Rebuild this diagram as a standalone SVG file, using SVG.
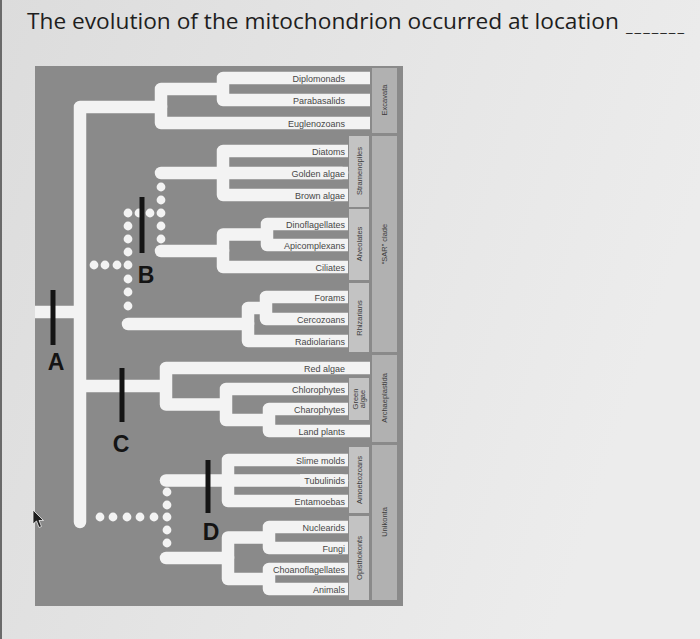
<svg xmlns="http://www.w3.org/2000/svg" width="700" height="639" viewBox="0 0 700 639">
<defs>
<linearGradient id="bg" x1="0" y1="0" x2="1" y2="0.3">
<stop offset="0" stop-color="#dcdcdc"/>
<stop offset="0.6" stop-color="#e6e6e6"/>
<stop offset="1" stop-color="#ececec"/>
</linearGradient>
<style>
.title{font-family:"Open Sans","Liberation Sans",sans-serif;font-size:22.7px;fill:#1e1e1e}
.br{fill:none;stroke:#f3f3f3;stroke-width:12.5;stroke-linejoin:round;stroke-linecap:butt}
.brr{fill:none;stroke:#f3f3f3;stroke-width:12.5;stroke-linejoin:round;stroke-linecap:round}
.dot{fill:#f3f3f3}
.leaf{font-family:"Liberation Sans",Arial,sans-serif;font-size:9px;fill:#474747;text-anchor:end}
.colO{fill:#b1b1b1}
.colI{fill:#c3c3c3}
.clab{font-family:"Liberation Sans",Arial,sans-serif;font-size:7.5px;fill:#3c3c3c;text-anchor:middle}
.mark{stroke:#141414;stroke-width:5;stroke-linecap:butt}
.let{font-family:"Liberation Sans",Arial,sans-serif;font-size:23px;font-weight:bold;fill:#141414;text-anchor:middle}
</style>
</defs>
<rect x="0" y="0" width="700" height="639" fill="url(#bg)"/>
<rect x="0" y="0" width="2" height="639" fill="#6a6a6a"/>
<text class="title" x="27" y="29">The evolution of the mitochondrion occurred at location</text>
<text class="title" x="626" y="32" style="font-size:15px;letter-spacing:2px">_______</text>

<rect id="panel" x="35" y="66" width="368" height="540" fill="#8a8a8a"/>

<g id="connectors">
<path class="brr" d="M161 107 H80 V522"/>
<path class="br" d="M35 312 H80"/>
<path class="br" d="M80 386 H166"/>
<path class="br" d="M223 89 H161 V123 H370"/>
<path class="br" d="M370 78 H223 V100 H370"/>
<path class="br" d="M348 151 H223 V195 H348"/>
<path class="brr" d="M161 173 H342"/>
<path class="br" d="M300 173 H348"/>
<path class="br" d="M348 224 H267 V245 H348"/>
<path class="br" d="M267 234.5 H223 V267 H348"/>
<path class="brr" d="M161 251 H223"/>
<path class="br" d="M348 297 H266 V319 H348"/>
<path class="br" d="M266 308 H248 V341 H348"/>
<path class="brr" d="M128 324 H248"/>
<path class="br" d="M370 368 H166 V404.5 H226"/>
<path class="br" d="M348 389 H226 V420 H269"/>
<path class="br" d="M348 409 H269 V431 H370"/>
<path class="br" d="M348 460 H228 V501 H348"/>
<path class="brr" d="M166 480.5 H342"/>
<path class="br" d="M300 480.5 H348"/>
<path class="br" d="M348 527 H269 V548 H348"/>
<path class="br" d="M348 569 H269 V589 H348"/>
<path class="br" d="M269 537.5 H228 V579 H269"/>
<path class="brr" d="M166 558 H228"/>
<g id="dots-sar">
<circle class="dot" cx="94" cy="265" r="4.4"/><circle class="dot" cx="105" cy="265" r="4.4"/><circle class="dot" cx="117" cy="265" r="4.4"/>
<circle class="dot" cx="128" cy="213" r="4.4"/><circle class="dot" cx="128" cy="226" r="4.4"/><circle class="dot" cx="128" cy="239" r="4.4"/><circle class="dot" cx="128" cy="252" r="4.4"/><circle class="dot" cx="128" cy="265" r="4.4"/><circle class="dot" cx="128" cy="279" r="4.4"/><circle class="dot" cx="128" cy="292" r="4.4"/><circle class="dot" cx="128" cy="306" r="4.4"/>
<circle class="dot" cx="139" cy="213" r="4.4"/><circle class="dot" cx="150" cy="213" r="4.4"/>
<circle class="dot" cx="161" cy="187" r="4.4"/><circle class="dot" cx="161" cy="200" r="4.4"/><circle class="dot" cx="161" cy="213" r="4.4"/><circle class="dot" cx="161" cy="226" r="4.4"/><circle class="dot" cx="161" cy="239" r="4.4"/>
</g>
<g id="dots-uni">
<circle class="dot" cx="100" cy="517" r="4.4"/><circle class="dot" cx="113" cy="517" r="4.4"/><circle class="dot" cx="127" cy="517" r="4.4"/><circle class="dot" cx="140" cy="517" r="4.4"/><circle class="dot" cx="154" cy="517" r="4.4"/><circle class="dot" cx="167" cy="517" r="4.4"/>
<circle class="dot" cx="167" cy="492" r="4.4"/><circle class="dot" cx="167" cy="505" r="4.4"/><circle class="dot" cx="167" cy="530" r="4.4"/><circle class="dot" cx="167" cy="543" r="4.4"/>
</g>
</g>

<g id="columns">
<rect class="colO" x="372" y="68" width="25" height="65"/>
<rect class="colO" x="372" y="136" width="25" height="216"/>
<rect class="colO" x="372" y="355" width="25" height="87"/>
<rect class="colO" x="372" y="445" width="25" height="155"/>
<rect class="colI" x="349" y="136" width="20" height="71"/>
<rect class="colI" x="349" y="209" width="20" height="71"/>
<rect class="colI" x="349" y="283" width="20" height="69"/>
<rect class="colI" x="349" y="378" width="20" height="42"/>
<rect class="colI" x="349" y="447" width="20" height="66"/>
<rect class="colI" x="349" y="516" width="20" height="84"/>
<text class="clab" transform="translate(387,100) rotate(-90)">Excavata</text>
<text class="clab" transform="translate(362,171) rotate(-90)">Stramenopiles</text>
<text class="clab" transform="translate(362,244) rotate(-90)">Alveolates</text>
<text class="clab" transform="translate(387,244) rotate(-90)">“SAR” clade</text>
<text class="clab" transform="translate(362,318) rotate(-90)">Rhizarians</text>
<text class="clab" transform="translate(387,398) rotate(-90)">Archaeplastida</text>
<text class="clab" transform="translate(358,399) rotate(-90)">Green</text>
<text class="clab" transform="translate(365,399) rotate(-90)">algae</text>
<text class="clab" transform="translate(362,480) rotate(-90)">Amoebozoans</text>
<text class="clab" transform="translate(362,558) rotate(-90)">Opisthokonts</text>
<text class="clab" transform="translate(387,522) rotate(-90)">Unikonta</text>
</g>

<g id="leaves">
<text class="leaf" x="345" y="81.5">Diplomonads</text>
<text class="leaf" x="345" y="103.5">Parabasalids</text>
<text class="leaf" x="345" y="126.5">Euglenozoans</text>
<text class="leaf" x="345" y="154.5">Diatoms</text>
<text class="leaf" x="345" y="176.5">Golden algae</text>
<text class="leaf" x="345" y="198.5">Brown algae</text>
<text class="leaf" x="345" y="227.5">Dinoflagellates</text>
<text class="leaf" x="345" y="248.5">Apicomplexans</text>
<text class="leaf" x="345" y="270.5">Ciliates</text>
<text class="leaf" x="345" y="300.5">Forams</text>
<text class="leaf" x="345" y="322.5">Cercozoans</text>
<text class="leaf" x="345" y="344.5">Radiolarians</text>
<text class="leaf" x="345" y="371.5">Red algae</text>
<text class="leaf" x="345" y="392.5">Chlorophytes</text>
<text class="leaf" x="345" y="412.5">Charophytes</text>
<text class="leaf" x="345" y="434.5">Land plants</text>
<text class="leaf" x="345" y="463.5">Slime molds</text>
<text class="leaf" x="345" y="484">Tubulinids</text>
<text class="leaf" x="345" y="504.5">Entamoebas</text>
<text class="leaf" x="345" y="530.5">Nuclearids</text>
<text class="leaf" x="345" y="551.5">Fungi</text>
<text class="leaf" x="345" y="572.5">Choanoflagellates</text>
<text class="leaf" x="345" y="592.5">Animals</text>
</g>

<g id="markA"><line class="mark" x1="53" y1="290" x2="53" y2="345"/><text class="let" x="56" y="370">A</text></g>
<g id="markB"><line class="mark" x1="142" y1="197" x2="142" y2="253"/><text class="let" x="146" y="283">B</text></g>
<g id="markC"><line class="mark" x1="122" y1="368" x2="122" y2="422"/><text class="let" x="121" y="452">C</text></g>
<g id="markD"><line class="mark" x1="208" y1="460" x2="208" y2="513"/><text class="let" x="211" y="540">D</text></g>

<polygon points="33,510 33,524 36.5,521 39,527.5 41.5,526.5 39,520.5 43.5,520.5" fill="#1e1e1e" stroke="#f0f0f0" stroke-width="0.8"/>
</svg>
